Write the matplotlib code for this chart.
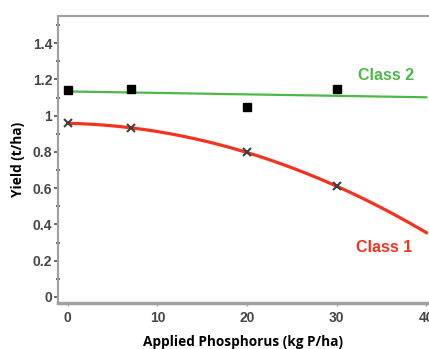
import numpy as np
import matplotlib
matplotlib.use('Agg')
import matplotlib.pyplot as plt
from matplotlib.ticker import MultipleLocator

plt.rcParams['font.family'] = ['Liberation Sans', 'DejaVu Sans']

# 数据
p_rate = [0, 7, 20, 30]
class1_yield = [0.96, 0.93, 0.80, 0.61]
class2_yield = [1.14, 1.15, 1.05, 1.15]

fig = plt.figure(figsize=(4.29, 3.49), dpi=100)
ax = fig.add_axes([0.135, 0.132, 0.865, 0.822])

# 拟合曲线
xs = np.linspace(0, 40, 200)
c1 = np.polyfit(p_rate, class1_yield, 2)
c2 = np.polyfit(p_rate, class2_yield, 1)
ax.plot(xs, np.polyval(c2, xs), color='#4cb848', lw=1.6, zorder=2)
ax.plot(xs, np.polyval(c1, xs), color='#f5321e', lw=2.3, zorder=2)

# 观测点
ax.plot(p_rate, class2_yield, 's', color='black', ms=6, zorder=3)
ax.plot(p_rate, class1_yield, 'x', color='#404040', ms=6, mew=1.5, zorder=3)

ax.text(35.5, 1.22, 'Class 2', color='#4cb848', fontsize=11.5, fontweight='bold',
        ha='center', va='center')
ax.text(35.3, 0.275, 'Class 1', color='#f5321e', fontsize=11.5, fontweight='bold',
        ha='center', va='center')

ax.set_xlim(-1.1, 40.3)
ax.set_ylim(-0.033, 1.55)
ax.set_xticks([0, 10, 20, 30, 40])
ax.set_yticks([0, 0.2, 0.4, 0.6, 0.8, 1.0, 1.2, 1.4])
ax.set_yticklabels(['0', '0.2', '0.4', '0.6', '0.8', '1', '1.2', '1.4'])
ax.yaxis.set_minor_locator(MultipleLocator(0.1))

for s in ['left', 'bottom', 'top']:
    ax.spines[s].set_color('#a0a0a0')
ax.spines['left'].set_linewidth(1.5)
ax.spines['bottom'].set_linewidth(2.5)
ax.spines['top'].set_linewidth(1.5)
ax.spines['right'].set_visible(False)

ax.tick_params(axis='y', which='major', direction='out', length=3, width=1.2,
               color='#505050', labelsize=10, labelcolor='#454545', pad=1)
ax.tick_params(axis='y', which='minor', direction='inout', length=3, width=1.2,
               color='#505050')
ax.tick_params(axis='x', which='major', direction='out', length=2, width=1,
               color='#a0a0a0', labelsize=10, labelcolor='#454545', pad=4)
for lab in ax.get_xticklabels() + ax.get_yticklabels():
    lab.set_fontweight('bold')

ax.set_xlabel('Applied Phosphorus (kg P/ha)', fontsize=9.8, fontweight='bold',
              family='Open Sans', labelpad=7)
ax.set_ylabel('Yield (t/ha)', fontsize=9.8, fontweight='bold',
              family='Open Sans', labelpad=6)

fig.savefig('out.png', dpi=100)
